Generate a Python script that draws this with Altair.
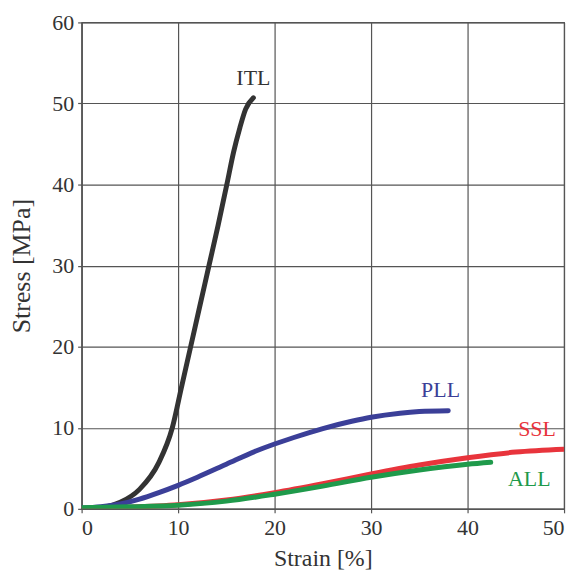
import altair as alt
import pandas as pd

series_names = ["ITL", "PLL", "SSL", "ALL"]
series_colors = ["#333333", "#3b3f98", "#e8343c", "#1f9a4b"]

itl_strain = [0, 2, 4, 6, 8, 9.4, 10.35, 11.3, 12.25, 13.2, 14.15, 15.05, 15.75, 16.4, 17.0, 17.8]
itl_stress = [-0.2, 0.1, 0.8, 2.4, 5.7, 10, 15, 20, 25, 30, 35, 40, 44, 47, 49.3, 50.7]

pll_strain = [0, 2, 4, 6, 8, 10, 12, 15, 18, 20, 22, 25, 28, 30, 33, 35, 38]
pll_stress = [0.1, 0.25, 0.6, 1.2, 2.0, 2.9, 3.9, 5.5, 7.1, 8.0, 8.8, 9.9, 10.8, 11.3, 11.8, 12.0, 12.1]

ssl_strain = [0, 5, 10, 15, 20, 25, 30, 35, 40, 45, 50]
ssl_stress = [0.05, 0.2, 0.5, 1.1, 2.0, 3.1, 4.3, 5.4, 6.3, 7.0, 7.35]

all_strain = [0, 5, 10, 15, 20, 25, 30, 35, 40, 42.4]
all_stress = [0.15, 0.25, 0.45, 0.95, 1.8, 2.8, 3.9, 4.8, 5.5, 5.75]

label_strain = [17.8, 37.2, 47.2, 46.4]
label_stress = [53.2, 14.7, 9.8, 3.7]

rows = []
for name, xs, ys in [("ITL", itl_strain, itl_stress), ("PLL", pll_strain, pll_stress),
                     ("SSL", ssl_strain, ssl_stress), ("ALL", all_strain, all_stress)]:
    for i, (x, y) in enumerate(zip(xs, ys)):
        rows.append({"series": name, "strain": x, "stress": y, "order": i})
df = pd.DataFrame(rows)
labels = pd.DataFrame({"series": series_names, "strain": label_strain, "stress": label_stress})

FONT = "Liberation Serif"
color = alt.Color("series:N", scale=alt.Scale(domain=series_names, range=series_colors), legend=None)

axis_common = dict(grid=True, labelFont=FONT, titleFont=FONT, labelColor="#333333",
                   titleColor="#333333", titleFontWeight="normal", tickSize=4,
                   gridColor="#555555", gridWidth=1.2, gridOpacity=1,
                   domainColor="#555555", domainWidth=1.2, tickColor="#555555", tickWidth=1.2)

x = alt.X("strain:Q", scale=alt.Scale(domain=[0, 50], nice=False),
          axis=alt.Axis(values=[0, 10, 20, 30, 40, 50], title="Strain [%]",
                        labelFontSize=22, titleFontSize=24, labelPadding=5, titlePadding=8,
                        **axis_common))
y = alt.Y("stress:Q", scale=alt.Scale(domain=[0, 60], nice=False),
          axis=alt.Axis(values=[0, 10, 20, 30, 40, 50, 60], title="Stress [MPa]",
                        labelFontSize=22, titleFontSize=26, labelPadding=4, titlePadding=17,
                        **axis_common))

lines = alt.Chart(df).mark_line(strokeWidth=5, interpolate="monotone", strokeCap="round", clip=True).encode(
    x=x, y=y, color=color, detail="series:N", order="order:Q")

text = alt.Chart(labels).mark_text(fontSize=22, font=FONT, align="center", baseline="middle").encode(
    x="strain:Q", y="stress:Q", text="series:N", color=color)

chart = alt.layer(lines, text).properties(
    width=485, height=489,
    autosize=alt.AutoSizeParams(type="none"),
    padding={"left": 74, "top": 13, "right": 10, "bottom": 62},
).configure(font=FONT).configure_view(stroke="#555555", strokeWidth=1.2)

chart.save("out.html", embed_options={"renderer": "svg", "actions": False})
